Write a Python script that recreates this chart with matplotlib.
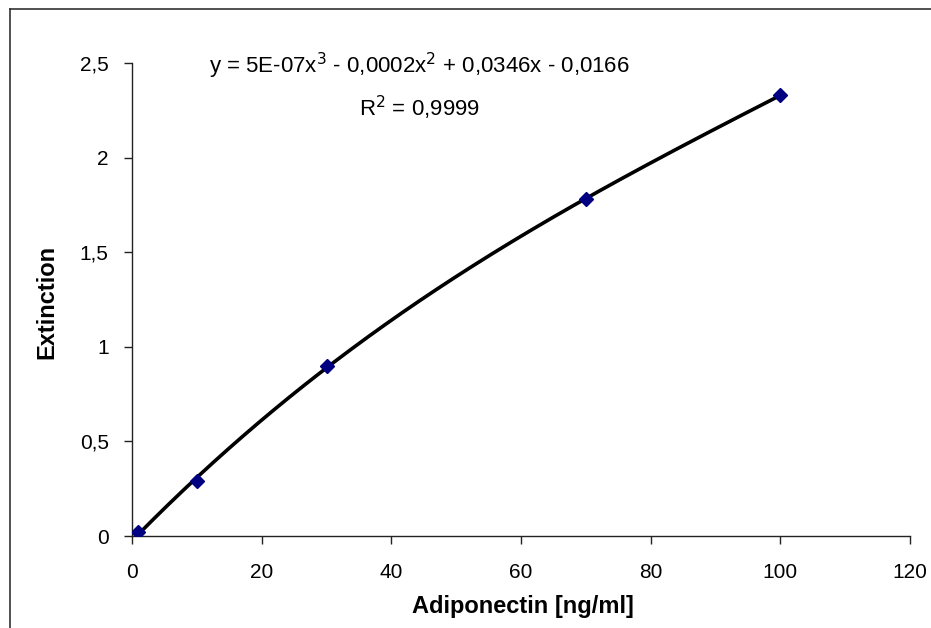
import numpy as np
import matplotlib
matplotlib.use("Agg")
import matplotlib.pyplot as plt
from matplotlib.lines import Line2D

conc = [1, 10, 30, 70, 100]
ext = [0.02, 0.29, 0.90, 1.78, 2.33]
xticks = [0, 20, 40, 60, 80, 100, 120]
yticks = [0, 0.5, 1, 1.5, 2, 2.5]
ytick_labels = ["0", "0,5", "1", "1,5", "2", "2,5"]

plt.rcParams['font.family'] = ['Liberation Sans', 'DejaVu Sans']

W, H = 931, 628
fig = plt.figure(figsize=(W / 100, H / 100), dpi=100)
ax = fig.add_axes([132 / W, 1 - 536 / H, 778 / W, 473 / H])

coef = np.polyfit(conc, ext, 3)
xs = np.linspace(min(conc), max(conc), 300)
ax.plot(xs, np.polyval(coef, xs), color='black', lw=2.6, zorder=2)
ax.plot(conc, ext, linestyle='none', marker='D', color='#000080', ms=7.5, zorder=3)

ax.set_xlim(0, 120)
ax.set_ylim(0, 2.5)
ax.set_xticks(xticks)
ax.set_yticks(yticks)
ax.set_yticklabels(ytick_labels)
for s in ['top', 'right']:
    ax.spines[s].set_visible(False)
for s in ['left', 'bottom']:
    ax.spines[s].set_linewidth(1.0)
    ax.spines[s].set_color('#222222')
ax.tick_params(direction='out', length=5.8, width=1, labelsize=15, color='#222222')
ax.tick_params(axis='x', pad=13.5)
ax.tick_params(axis='y', pad=11)

ax.set_xlabel('Adiponectin [ng/ml]', fontsize=17, fontweight='bold', va='center')
ax.xaxis.set_label_coords(0.503, -0.150)
ax.set_ylabel('Extinction', fontsize=17, fontweight='bold', va='center')
ax.yaxis.set_label_coords(-0.109, 0.495)

ax.text(0.369, 0.994, r'y = 5E-07x$^3$ - 0,0002x$^2$ + 0,0346x - 0,0166',
        transform=ax.transAxes, ha='center', va='center', fontsize=16)
ax.text(0.369, 0.906, r'R$^2$ = 0,9999', transform=ax.transAxes,
        ha='center', va='center', fontsize=16)

bx = 9.5 / W
by = 1 - 8.5 / H
fig.add_artist(Line2D([bx, bx], [0, by], transform=fig.transFigure,
                      color='#333333', lw=1.2))
fig.add_artist(Line2D([bx, 1], [by, by], transform=fig.transFigure,
                      color='#333333', lw=1.2))

fig.savefig('out.png', dpi=100)
